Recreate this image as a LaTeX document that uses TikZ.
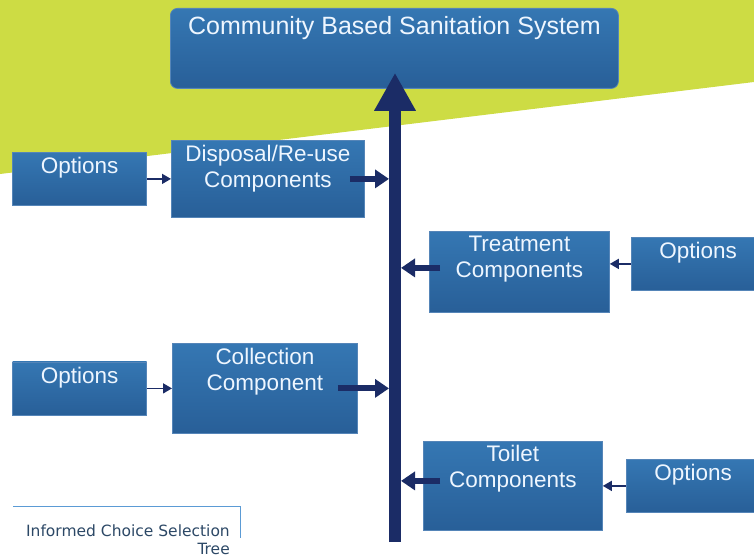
\documentclass[tikz,border=0pt]{standalone}
\usepackage{fontspec}
\setmainfont{Liberation Sans}
\newfontfamily\captionfont{DejaVu Sans}
\usepackage{tikz}
\usetikzlibrary{arrows.meta, positioning}

\definecolor{leaf}{HTML}{CDDC44}
\definecolor{boxtop}{HTML}{3577B3}
\definecolor{boxbottom}{HTML}{285F98}
\definecolor{boxedge}{HTML}{5585B8}
\definecolor{boxtext}{HTML}{EEF6FF}
\definecolor{navy}{HTML}{1B2C66}
\definecolor{captionline}{HTML}{5B9BD5}
\definecolor{captiontext}{HTML}{2C4866}

\begin{document}
\begin{tikzpicture}[
    x=1pt, y=-1pt,
    comp/.style={rectangle, draw=boxedge, line width=0.8pt, top color=boxtop, bottom color=boxbottom,
                 inner sep=0pt, anchor=north west},
    optbox/.style={comp, minimum width=134pt, minimum height=53pt},
    txt/.style={anchor=north, inner sep=0pt, yshift=-5pt, align=center, text=boxtext,
                font=\fontsize{22.5}{26}\selectfont},
    spine/.style={-{Triangle[width=39pt, length=38pt]}, line width=12pt, draw=navy},
    feed/.style={-{Triangle[width=18pt, length=14pt]}, line width=6pt, draw=navy, shorten >=6pt},
    pointer/.style={-{Triangle[width=10pt, length=9pt]}, line width=1.6pt, draw=navy}
]
\useasboundingbox (0,0) rectangle (754,559);
\clip (0,0) rectangle (754,559);

% background band
\fill[leaf] (0,0) -- (754,0) -- (754,82) -- (0,174) -- cycle;

\node[comp, rounded corners=7pt, minimum width=448pt, minimum height=80pt,
      label={[txt, yshift=-3pt, font=\fontsize{25}{28}\selectfont]north:Community Based Sanitation System}] (system) at (170,8) {};

\node[comp, minimum width=193pt, minimum height=77pt,
      label={[txt]north:{Disposal/Re-use\\Components}}] (disposal) at (171,140) {};
\node[optbox, anchor=center, left=24pt of disposal, label={[txt]north:Options}] (opt1) {};

\node[comp, minimum width=185pt, minimum height=90pt,
      label={[txt]north:{Collection\\Component}}] (collection) at (172,343) {};
\node[optbox, anchor=center, left=25pt of collection, label={[txt]north:Options}] (opt2) {};

\node[comp, minimum width=180pt, minimum height=81pt,
      label={[txt]north:{Treatment\\Components}}] (treatment) at (429,231) {};
\node[optbox, anchor=center, right=21pt of treatment, yshift=8pt, label={[txt]north:Options}] (opt3) {};

\node[comp, minimum width=179pt, minimum height=89pt,
      label={[txt, yshift=1pt]north:{Toilet\\Components}}] (toilet) at (423,441) {};
\node[optbox, anchor=center, right=23pt of toilet, label={[txt]north:Options}] (opt4) {};

% main spine
\coordinate (foot) at (395,542);
\coordinate (tip) at ([yshift=16pt]system.south);
\draw[spine] (foot) -- (foot |- tip);

\draw[feed] ([xshift=-15pt]disposal.east) -- (disposal.east -| foot);
\draw[feed] ([xshift=-20pt]collection.east) -- (collection.east -| foot);
\draw[feed] ([xshift=11pt, yshift=4pt]treatment.west) -- ([yshift=4pt]treatment.west -| foot);
\draw[feed] ([xshift=17pt, yshift=5pt]toilet.west) -- ([yshift=5pt]toilet.west -| foot);

\draw[pointer] (opt1) -- (disposal);
\draw[pointer] (opt2) -- (collection);
\draw[pointer] (opt3.west) -- (opt3.west -| treatment.east);
\draw[pointer] (opt4.west) -- (opt4.west -| toilet.east);

% caption
\draw[captionline, line width=1pt] (13,506) -- (240,506) -- (240,538);
\node[anchor=north east, inner sep=0pt, align=right, text=captiontext,
      font=\captionfont\fontsize{15.5}{18}\selectfont] (caption) at (230,525) {Informed Choice Selection\\Tree};

\end{tikzpicture}
\end{document}
